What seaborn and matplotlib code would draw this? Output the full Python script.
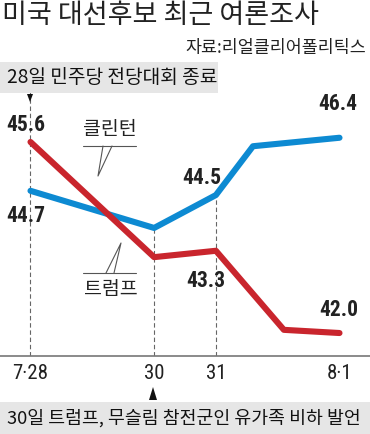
import matplotlib
matplotlib.use("Agg")
import matplotlib.pyplot as plt
import seaborn as sns
import pandas as pd
from matplotlib import font_manager as fm
from matplotlib.patches import Rectangle, Polygon

# poll dates on the x axis (uneven spacing, as drawn in the paper)
date_pos = [0, 2, 3, 5]
date_labels = ["7·28", "30", "31", "8·1"]

# line points
clinton_x = [0, 2, 3, 3.6, 5]
clinton_y = [44.68, 43.98, 44.60, 45.52, 45.68]
trump_x = [0, 2, 3, 4.1, 5]
trump_y = [45.6, 43.43, 43.55, 42.06, 42.0]

# printed poll numbers and which point they belong to
clinton_poll = [44.7, 44.5, 46.4]
clinton_poll_idx = [0, 2, 4]
trump_poll = [45.6, 43.3, 42.0]
trump_poll_idx = [0, 2, 4]

BLUE = "#0d8ad2"
RED = "#c9252d"

sns.set_style("white")
plt.rcParams["font.family"] = ["Noto Sans CJK KR", "DejaVu Sans"]


def narrow(size, weight="normal"):
    names = {f.name for f in fm.fontManager.ttflist}
    for name in ["Roboto Condensed", "Liberation Sans Narrow", "Open Sans Condensed"]:
        if name in names:
            return fm.FontProperties(family=[name, "Noto Sans CJK KR"], size=size, weight=weight)
    if any(f.name == "DejaVu Sans" and f.stretch == "condensed" for f in fm.fontManager.ttflist):
        return fm.FontProperties(family=["DejaVu Sans", "Noto Sans CJK KR"], stretch="condensed",
                                 size=size, weight=weight)
    return fm.FontProperties(family=["DejaVu Sans", "Noto Sans CJK KR"], size=size, weight=weight)


fig = plt.figure(figsize=(3.7, 4.34), dpi=100)

# chart area
ax = fig.add_axes([0, 78 / 434, 1, 264 / 434])
ax.patch.set_alpha(0)

df = pd.DataFrame({
    "x": clinton_x + trump_x,
    "y": clinton_y + trump_y,
    "who": ["클린턴"] * len(clinton_x) + ["트럼프"] * len(trump_x),
})
sns.lineplot(data=df, x="x", y="y", hue="who", palette={"클린턴": BLUE, "트럼프": RED},
             estimator=None, sort=False, linewidth=4.4, legend=False, ax=ax,
             solid_capstyle="round")

ax.set_xlim(-0.4935, 5.4935)
ax.set_ylim(41.567, 46.542)

# dashed guides
ylo, yhi = ax.get_ylim()
ax.vlines(date_pos[0], ylo, yhi, color="#666", lw=0.8, linestyle=(0, (4, 2.5)), zorder=0)
for d in date_pos[1:3]:
    top = max(clinton_y[clinton_x.index(d)], trump_y[trump_x.index(d)])
    ax.vlines(d, ylo, top, color="#666", lw=0.8, linestyle=(0, (4, 2.5)), zorder=0)

ax.set_xticks(date_pos, date_labels)
for lab in ax.get_xticklabels():
    lab.set_fontproperties(narrow(15))
    lab.set_color("#222")
ax.tick_params(axis="x", direction="in", length=6, width=0.8, color="#666", pad=6)
ax.set_yticks([])
ax.set_xlabel("")
ax.set_ylabel("")
for s in ["top", "left", "right"]:
    ax.spines[s].set_visible(False)
ax.spines["bottom"].set_color("#777")
ax.spines["bottom"].set_linewidth(1.2)

# value labels (offsets in pixels)
clinton_off = [(-5, -25), (-14, 17), (-2, 34)]
trump_off = [(-5, 17), (-10, -30), (-1, 23)]
for vals, idx, xs, ys, offs in [(clinton_poll, clinton_poll_idx, clinton_x, clinton_y, clinton_off),
                                (trump_poll, trump_poll_idx, trump_x, trump_y, trump_off)]:
    for v, i, o in zip(vals, idx, offs):
        ax.annotate(f"{v:.1f}", (xs[i], ys[i]), xytext=o, textcoords="offset pixels",
                    ha="center", va="center", color="#222",
                    fontproperties=narrow(15.5, "bold"), annotation_clip=False)

# overlay in pixel coordinates for titles, boxes, callouts
ov = fig.add_axes([0, 0, 1, 1])
ov.set_xlim(0, 370)
ov.set_ylim(434, 0)
ov.axis("off")
ov.patch.set_alpha(0)

ov.text(2, 15.5, "미국 대선후보 최근 여론조사", fontsize=19.5, va="center", ha="left", color="#222")
ov.text(366, 48, "자료:리얼클리어폴리틱스", fontsize=12.5, va="center", ha="right", color="#222")

ov.add_patch(Rectangle((0, 62), 218, 31, color="#e6e6e6", lw=0))
ov.text(7, 77.5, "28일 민주당 전당대회 종료", fontsize=13.8, va="center", ha="left", color="#111")
ov.add_patch(Polygon([(27, 94), (33, 94), (30, 102)], color="#111", lw=0))

ov.add_patch(Rectangle((0, 402), 370, 32, color="#e6e6e6", lw=0))
ov.text(7, 418, "30일 트럼프, 무슬림 참전군인 유가족 비하 발언", fontsize=13.2, va="center",
        ha="left", color="#111")
ov.add_patch(Polygon([(149, 400), (157, 400), (153, 387)], color="#111", lw=0))

# series name callouts
ov.text(110, 130, "클린턴", fontsize=14, ha="center", va="center", color="#222")
ov.plot([83, 136], [146, 146], color="#555", lw=0.8)
ov.plot([103, 98, 112], [146, 176, 146], color="#555", lw=0.8)

ov.text(111, 289, "트럼프", fontsize=14, ha="center", va="center", color="#222")
ov.plot([83, 136], [273, 273], color="#555", lw=0.8)
ov.plot([106, 121, 114], [273, 243, 273], color="#555", lw=0.8)

fig.savefig("out.png", dpi=100)
